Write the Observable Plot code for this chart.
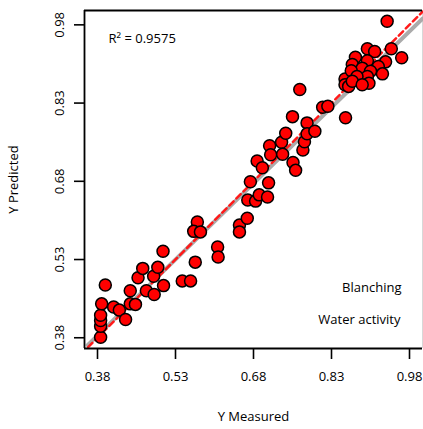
<!DOCTYPE html>
<html>
<head>
<meta charset="utf-8">
<script src="https://cdn.jsdelivr.net/npm/d3@7"></script>
<script src="https://cdn.jsdelivr.net/npm/@observablehq/plot@0.6"></script>
<style>
  html, body { margin: 0; padding: 0; background: #fff; }
  #chart { width: 423px; height: 429px; }
</style>
</head>
<body>
<div id="chart"></div>
<script>
// Measured vs predicted water activity (Blanching)
const measured = [
  0.386, 0.386, 0.386, 0.386, 0.388, 0.395, 0.411, 0.422, 0.434, 0.443,
  0.453, 0.443, 0.458, 0.467, 0.474, 0.489, 0.488, 0.496, 0.506, 0.507,
  0.543, 0.559, 0.568, 0.572, 0.565, 0.578, 0.611, 0.612, 0.653, 0.653,
  0.668, 0.669, 0.684, 0.691, 0.707, 0.674, 0.709, 0.687, 0.697, 0.711,
  0.713, 0.734, 0.736, 0.756, 0.761, 0.742, 0.755, 0.769, 0.775, 0.778,
  0.783, 0.783, 0.798, 0.813, 0.823, 0.857, 0.856, 0.856, 0.863, 0.899,
  0.913, 0.945, 0.965, 0.876, 0.899, 0.934, 0.920, 0.870, 0.889, 0.868,
  0.928, 0.905, 0.899, 0.879, 0.870, 0.902, 0.937, 0.889
];
const predicted = [
  0.381, 0.402, 0.413, 0.423, 0.445, 0.481, 0.439, 0.433, 0.415, 0.445,
  0.444, 0.470, 0.495, 0.513, 0.470, 0.463, 0.498, 0.515, 0.546, 0.480,
  0.489, 0.489, 0.525, 0.602, 0.584, 0.583, 0.554, 0.535, 0.596, 0.583,
  0.609, 0.644, 0.642, 0.654, 0.650, 0.679, 0.677, 0.719, 0.706, 0.748,
  0.731, 0.755, 0.732, 0.716, 0.701, 0.772, 0.804, 0.856, 0.740, 0.756,
  0.792, 0.771, 0.776, 0.822, 0.824, 0.802, 0.876, 0.865, 0.862, 0.934,
  0.929, 0.934, 0.917, 0.918, 0.911, 0.909, 0.900, 0.904, 0.897, 0.892,
  0.886, 0.891, 0.881, 0.881, 0.872, 0.868, 0.987, 0.865
];

// fitted regression line (grey) and 1:1 line (red dashed), endpoints
const fitMeasured = [0.361, 1.005];
const fitPredicted = [0.366, 0.992];
const identityLine = [0.362, 1.005];

const xTicks = [0.38, 0.53, 0.68, 0.83, 0.98];
const yTicks = [0.38, 0.53, 0.68, 0.83, 0.98];
const xDomain = [0.355, 1.005];
const yDomain = [0.3594, 1.0075];

const rSquaredLabel = "R² = 0.9575";
const treatmentLabel = "Blanching";
const responseLabel = "Water activity";

const points = measured.map((m, i) => ({measured: m, predicted: predicted[i]}));
const fit = fitMeasured.map((m, i) => ({measured: m, predicted: fitPredicted[i]}));
const identity = identityLine.map(v => ({measured: v, predicted: v}));

const chart = Plot.plot({
  width: 423,
  height: 429,
  marginLeft: 84,
  marginRight: 1,
  marginTop: 10,
  marginBottom: 81,
  style: {fontFamily: "'Open Sans', sans-serif", fontSize: "13px", background: "#fff", color: "#000"},
  x: {domain: xDomain},
  y: {domain: yDomain},
  marks: [
    Plot.ruleX([xDomain[1]], {stroke: "#d8d8d8", strokeWidth: 1}),
    Plot.line(fit, {x: "measured", y: "predicted", stroke: "#ababab", strokeWidth: 4}),
    Plot.line(identity, {x: "measured", y: "predicted", stroke: "#ff1a1a", strokeWidth: 2.5, strokeDasharray: "6,4"}),
    Plot.dot(points, {x: "measured", y: "predicted", r: 6, fill: "#ff0000", stroke: "#000", strokeWidth: 1.5}),
    Plot.ruleX([xDomain[0]], {stroke: "#000", strokeWidth: 1.8}),
    Plot.ruleY([yDomain[0]], {stroke: "#000", strokeWidth: 1.8}),
    Plot.ruleY([yDomain[1]], {stroke: "#000", strokeWidth: 1.8}),
    Plot.axisX({ticks: xTicks, tickFormat: d3.format(".2f"), tickSize: 11, tickPadding: 12, strokeWidth: 1.6,
      fontSize: 13, label: "Y Measured", labelAnchor: "center", labelOffset: 72, labelArrow: "none"}),
    Plot.axisY({ticks: yTicks, tickFormat: d3.format(".2f"), tickSize: 10, tickPadding: 11, strokeWidth: 1.6,
      tickRotate: -90, textAnchor: "middle", lineAnchor: "bottom",
      fontSize: 13, label: "Y Predicted", labelAnchor: "center", labelOffset: 76, labelArrow: "none"}),
    Plot.text([rSquaredLabel], {frameAnchor: "top-left", dx: 24, dy: 28, textAnchor: "start", lineAnchor: "middle", fontSize: 13}),
    Plot.text([treatmentLabel], {frameAnchor: "bottom-right", dx: -21, dy: -61, textAnchor: "end", lineAnchor: "middle", fontSize: 13}),
    Plot.text([responseLabel], {frameAnchor: "bottom-right", dx: -22, dy: -29, textAnchor: "end", lineAnchor: "middle", fontSize: 13})
  ]
});
document.getElementById("chart").appendChild(chart);
</script>
</body>
</html>
